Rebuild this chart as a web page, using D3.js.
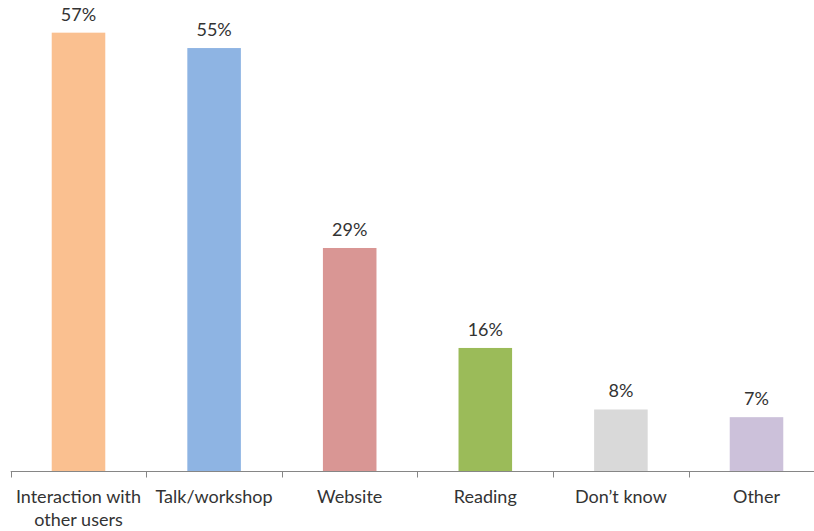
<!DOCTYPE html>
<html>
<head>
<meta charset="utf-8">
<script src="https://cdn.jsdelivr.net/npm/d3@7"></script>
<style>
  html, body { margin: 0; padding: 0; background: #fff; }
  svg { display: block; }
  text { font-family: Lato, "DejaVu Sans Condensed", sans-serif; fill: #333333; }
</style>
</head>
<body>
<svg id="chart" width="814" height="531"></svg>
<script>
// Where people learned about the tool (share of respondents, %)
const categories = ["Interaction with\nother users", "Talk/workshop", "Website", "Reading", "Don\u2019t know", "Other"];
const values = [57, 55, 29, 16, 8, 7];
const barColors = ["#FAC090", "#8EB4E3", "#D99694", "#9BBB59", "#D9D9D9", "#CCC1DA"];

const svg = d3.select("#chart");
const baseline = 471;

const x = d3.scaleBand()
  .domain(categories)
  .range([10.7, 10.7 + 135.6 * categories.length])
  .paddingInner(0.605)
  .paddingOuter(0.3025);

const y = d3.scaleLinear()
  .domain([0, 60])
  .range([baseline, baseline - 60 * 7.69]);

// bars
svg.selectAll("rect.bar")
  .data(values)
  .enter().append("rect")
  .attr("class", "bar")
  .attr("x", (d, i) => x(categories[i]))
  .attr("width", x.bandwidth())
  .attr("y", d => y(d))
  .attr("height", d => y(0) - y(d))
  .attr("fill", (d, i) => barColors[i]);

// value labels
svg.selectAll("text.value")
  .data(values)
  .enter().append("text")
  .attr("class", "value")
  .attr("x", (d, i) => x(categories[i]) + x.bandwidth() / 2)
  .attr("y", d => y(d) - 12)
  .attr("text-anchor", "middle")
  .style("font-size", "18px")
  .text(d => d + "%");

// category axis: baseline with ticks at band boundaries
const axisG = svg.append("g").attr("transform", `translate(0,${baseline})`);
const step = x.step();
const x0 = x.range()[0];
axisG.append("line")
  .attr("x1", x0).attr("x2", x.range()[1])
  .attr("y1", 0.5).attr("y2", 0.5)
  .attr("stroke", "#868686").attr("stroke-width", 1);
d3.range(categories.length + 1).forEach(i => {
  const tx = Math.round(x0 + i * step) + 0.5;
  axisG.append("line")
    .attr("x1", tx).attr("x2", tx)
    .attr("y1", 0.5).attr("y2", 6.5)
    .attr("stroke", "#868686").attr("stroke-width", 1);
});

// category labels (may wrap onto two lines)
categories.forEach(c => {
  const t = axisG.append("text")
    .attr("x", x(c) + x.bandwidth() / 2)
    .attr("y", 32)
    .attr("text-anchor", "middle")
    .style("font-size", "18px");
  c.split("\n").forEach((line, j) => {
    t.append("tspan")
      .attr("x", x(c) + x.bandwidth() / 2)
      .attr("dy", j === 0 ? 0 : 23)
      .text(line);
  });
});
</script>
</body>
</html>
